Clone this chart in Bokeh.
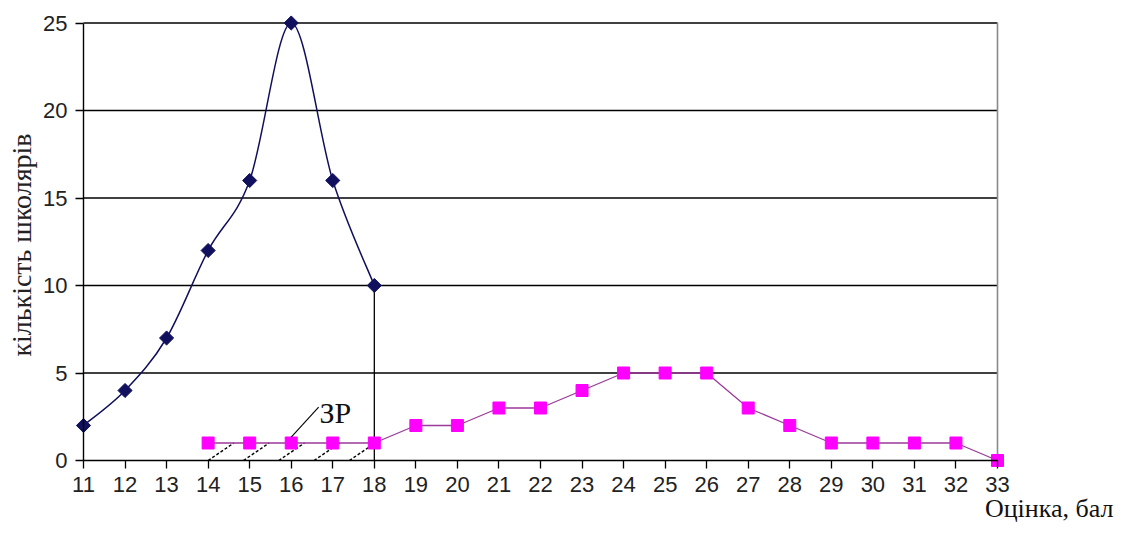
import numpy as np
from bokeh.plotting import figure
from bokeh.models import Range1d, Label, FixedTicker
from bokeh.embed import file_html
from bokeh.resources import INLINE

# ---- data ----
x_blue = [11, 12, 13, 14, 15, 16, 17, 18]
y_blue = [2, 4, 7, 12, 16, 25, 16, 10]

x_mag = [14, 15, 16, 17, 18, 19, 20, 21, 22, 23, 24, 25, 26, 27, 28, 29, 30, 31, 32, 33]
y_mag = [1, 1, 1, 1, 1, 2, 2, 3, 3, 4, 5, 5, 5, 3, 2, 1, 1, 1, 1, 0]

x_ticks = list(range(11, 34))
y_ticks = [0, 5, 10, 15, 20, 25]

zr_label = "ЗР"
x_title = "Оцінка, бал"
y_title = "кількість  школярів"

NAVY = "#10105e"
MAG = "#ff00ff"

# ---- layout: frame spans the canvas; axes sit at fixed data locations ----
W, H = 1115, 524
X_LO, X_HI = x_ticks[0], x_ticks[-1]
Y_LO, Y_HI = y_ticks[0], y_ticks[-1]
PX_L, PX_R = 83, 997        # canvas px of X_LO / X_HI
PY_B, PY_T = 460, 22.5      # canvas px of Y_LO / Y_HI
kx = (PX_R - PX_L) / (X_HI - X_LO)
ky = (PY_B - PY_T) / (Y_HI - Y_LO)
x_start = X_LO - PX_L / kx
x_end = X_HI + (W - PX_R) / kx
y_start = Y_LO - (H - PY_B) / ky
y_end = Y_HI + PY_T / ky


def dx(px):
    return x_start + px / kx


def dy(py):
    return y_end - py / ky


p = figure(width=W, height=H,
           x_range=Range1d(x_start, x_end), y_range=Range1d(y_start, y_end),
           output_backend="svg", toolbar_location=None,
           min_border_left=0, min_border_right=0,
           min_border_top=0, min_border_bottom=0)

p.background_fill_color = "white"
p.border_fill_color = "white"
p.outline_line_color = None
p.grid.visible = False

for ax in (p.xaxis[0], p.yaxis[0]):
    ax.axis_line_color = "black"
    ax.axis_line_width = 1.4
    ax.major_tick_line_color = "black"
    ax.major_tick_line_width = 1.3
    ax.major_tick_out = 8
    ax.major_tick_in = 0
    ax.minor_tick_out = 0
    ax.minor_tick_in = 0
    ax.major_label_text_font = "Liberation Sans"
    ax.major_label_text_font_size = "22px"
    ax.major_label_text_color = "#222222"
    ax.major_label_standoff = 8

p.xaxis.ticker = FixedTicker(ticks=x_ticks)
p.yaxis.ticker = FixedTicker(ticks=y_ticks)
p.xaxis.fixed_location = Y_LO
p.yaxis.fixed_location = X_LO
p.xaxis.bounds = (X_LO, X_HI)
p.yaxis.bounds = (Y_LO, Y_HI)

# horizontal grid lines (between the axis and the right border) and right border
gy = y_ticks[1:]
p.segment(x0=[X_LO] * len(gy), y0=gy, x1=[X_HI] * len(gy), y1=gy,
          line_color="black", line_width=1.4)
p.segment(x0=[X_HI], y0=[Y_LO], x1=[X_HI], y1=[Y_HI],
          line_color="#8a8a8a", line_width=1.6)

# ---- smoothed blue curve (Bezier through the points, Catmull-Rom style) ----
xb = np.array(x_blue, dtype=float)
yb = np.array(y_blue, dtype=float)
n = len(xb)
x0, y0, x1, y1, cx0, cy0, cx1, cy1 = [], [], [], [], [], [], [], []
for i in range(n - 1):
    pa = max(i - 1, 0)
    pd = min(i + 2, n - 1)
    x0.append(xb[i]); y0.append(yb[i])
    x1.append(xb[i + 1]); y1.append(yb[i + 1])
    cx0.append(xb[i] + (xb[i + 1] - xb[pa]) / 6)
    cy0.append(yb[i] + (yb[i + 1] - yb[pa]) / 6)
    cx1.append(xb[i + 1] - (xb[pd] - xb[i]) / 6)
    cy1.append(yb[i + 1] - (yb[pd] - yb[i]) / 6)
p.bezier(x0=x0, y0=y0, x1=x1, y1=y1, cx0=cx0, cy0=cy0, cx1=cx1, cy1=cy1,
         line_color=NAVY, line_width=1.5)

# vertical drop line from the last blue point
p.segment(x0=[x_blue[-1]], y0=[Y_LO], x1=[x_blue[-1]], y1=[y_blue[-1]],
          line_color="black", line_width=1.3)

# ---- ЗР zone hatching (dashed diagonals under the magenta points 14..18) ----
zone = [x for x in x_mag if x <= x_blue[-1]]
hx0 = np.linspace(zone[0], zone[-1] - 0.6, 5)
p.segment(x0=hx0, y0=[Y_LO] * 5, x1=hx0 + 0.62, y1=[y_mag[0]] * 5,
          line_color="black", line_width=1.4, line_dash="3 2")

# magenta series
p.line(x_mag, y_mag, line_color="#9a3a9a", line_width=1.3)
p.scatter(x_mag, y_mag, marker="square", size=12,
          fill_color=MAG, line_color=MAG)

# blue markers
p.scatter(x_blue, y_blue, marker="square", angle=np.pi / 4, size=10,
          fill_color=NAVY, line_color=NAVY)

# leader line and ЗР label
p.segment(x0=[16.0], y0=[1.33], x1=[16.66], y1=[3.05],
          line_color="black", line_width=1.1)
p.add_layout(Label(x=16.68, y=2.75, text=zr_label,
                   text_font="Liberation Serif", text_font_size="30px",
                   text_color="#111111", text_baseline="alphabetic"))

# axis titles
p.add_layout(Label(x=dx(21), y=dy(241), text=y_title, angle=np.pi / 2,
                   text_font="Liberation Serif", text_font_size="28px",
                   text_color="#222222", text_align="center",
                   text_baseline="middle"))
p.add_layout(Label(x=dx(1113), y=dy(522), text=x_title,
                   text_font="Liberation Serif", text_font_size="26px",
                   text_color="#111111", text_align="right",
                   text_baseline="bottom"))

open("out.html", "w").write(file_html(p, INLINE))
